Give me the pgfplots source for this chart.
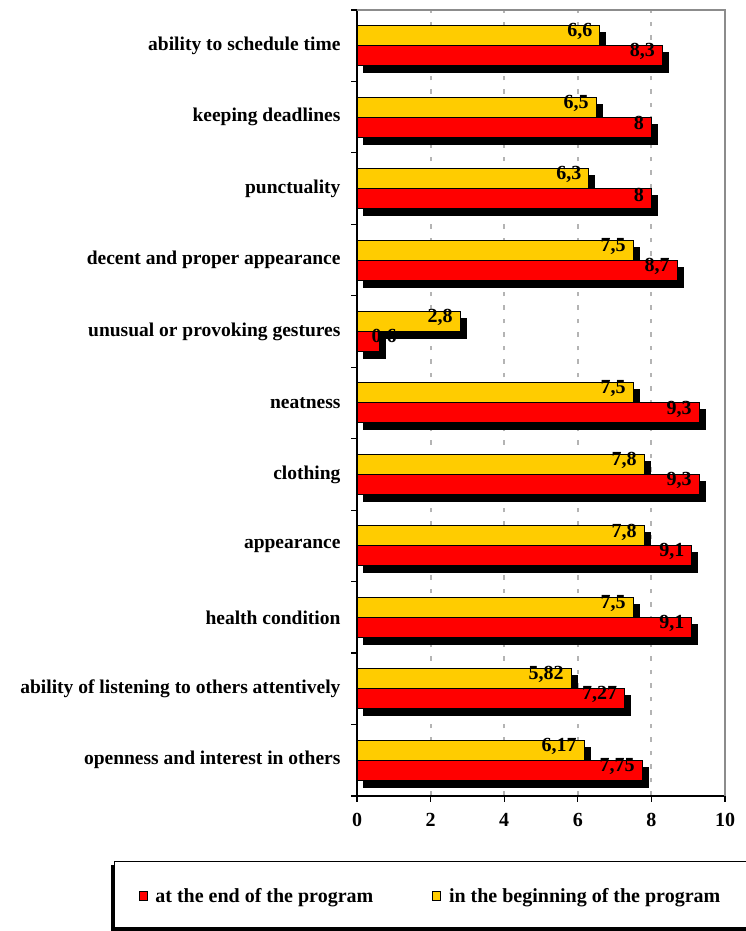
\documentclass[border=0pt]{standalone}
\usepackage{fontspec}
\setmainfont{Liberation Serif}
\usepackage{pgfplots}
\pgfplotsset{compat=1.18}
\usepackage{pgfplotstable}
\usetikzlibrary{shadows}

\definecolor{barred}{RGB}{255,0,0}
\definecolor{baryellow}{RGB}{255,204,0}
\definecolor{framegray}{RGB}{140,140,140}
\definecolor{gridgray}{RGB}{180,180,180}

% y: category position (bottom to top); dxe/dxb: label shift in pt
\pgfplotstableread{
y end   begin dxe dxb
0 7.75  6.17  -7  -7
1 7.27  5.82  -7  -7
2 9.1   7.5   -7  -7
3 9.1   7.8   -7  -7
4 9.3   7.8   -7  -7
5 9.3   7.5   -7  -7
6 0.6   2.8   18  -7
7 8.7   7.5   -7  -7
8 8     6.3   -7  -7
9 8     6.5   -7  -7
10 8.3  6.6   -7  -7
}\ratings

\begin{document}
\begin{tikzpicture}
\useasboundingbox (0,0) rectangle (746pt,931pt);
% legend frame with its shadow
\fill[black] (111pt,0pt) rectangle (760pt,66pt);
\filldraw[fill=white, draw=black, line width=1pt] (114pt,3pt) rectangle (760pt,69pt);
\begin{axis}[
  at={(357pt,135pt)}, anchor=south west,
  scale only axis, width=368pt, height=786pt,
  xbar, bar width=20pt,
  xmin=0, xmax=10, ymin=-0.5, ymax=10.5,
  axis x line*=bottom, axis y line*=left,
  axis line style={black, line width=1.4pt, -},
  tick align=outside,
  major tick length=6pt, minor tick length=6pt,
  xtick={0,2,...,10},
  major x tick style={black, line width=1.2pt},
  ytick={0,...,10},
  minor ytick={-0.5,0.5,...,10.5},
  major y tick style={draw=none},
  minor y tick style={black, line width=1.2pt},
  yticklabels={openness and interest in others,
    ability of listening to others attentively,
    health condition, appearance, clothing, neatness,
    unusual or provoking gestures, decent and proper appearance,
    punctuality, keeping deadlines, ability to schedule time},
  yticklabel style={font=\fontsize{19.5}{22}\selectfont\bfseries, anchor=east, xshift=-7pt},
  xticklabel style={font=\fontsize{20}{24}\selectfont\bfseries, yshift=-8pt},
  /pgf/number format/assume math mode=true,
  /pgf/number format/use comma,
  xmajorgrids,
  major grid style={gridgray, line width=2pt, dash pattern=on 4.5pt off 9pt},
  clip=false,
  legend columns=2,
  legend style={at={(0.1997,-0.128)}, anchor=center, draw=none, fill=none,
    font=\fontsize{20}{23}\selectfont\bfseries,
    /tikz/every even column/.append style={column sep=57pt}},
  legend cell align=left,
]
\addplot[forget plot, fill=baryellow, draw=black, line width=1pt, bar shift=10pt,
  drop shadow={shadow xshift=6pt, shadow yshift=-7pt, opacity=1, fill=black},
  visualization depends on={\thisrow{dxb} \as \labdx},
  nodes near coords,
  every node near coord/.append style={anchor=east, xshift=\labdx pt, yshift=4pt,
    text=black, font=\fontsize{20}{24}\selectfont\bfseries, inner sep=0pt}]
  table[x=begin, y=y] {\ratings};
\addplot[forget plot, fill=barred, draw=black, line width=1pt, bar shift=-10pt,
  drop shadow={shadow xshift=6pt, shadow yshift=-7pt, opacity=1, fill=black},
  visualization depends on={\thisrow{dxe} \as \labdx},
  nodes near coords,
  every node near coord/.append style={anchor=east, xshift=\labdx pt, yshift=4pt,
    text=black, font=\fontsize{20}{24}\selectfont\bfseries, inner sep=0pt}]
  table[x=end, y=y] {\ratings};
\draw[framegray, line width=1.5pt] (rel axis cs:0,1) -- (rel axis cs:1,1) -- (rel axis cs:1,0);
\addlegendimage{legend image code/.code={\draw[black, line width=1pt, fill=barred] (0pt,-4pt) rectangle (8pt,5pt); \path (14pt,0pt);}}
\addlegendentry{at the end of the program}
\addlegendimage{legend image code/.code={\draw[black, line width=1pt, fill=baryellow] (0pt,-4pt) rectangle (8pt,5pt); \path (14pt,0pt);}}
\addlegendentry{in the beginning of the program}
\end{axis}
\end{tikzpicture}
\end{document}
